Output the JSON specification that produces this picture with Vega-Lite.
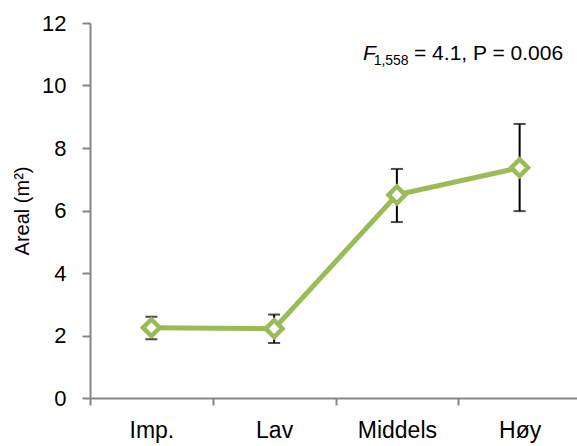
{
  "$schema": "https://vega.github.io/schema/vega-lite/v6.json",
  "width": 491,
  "height": 375,
  "autosize": "none",
  "padding": {"left": 90, "top": 23, "right": 0, "bottom": 48},
  "background": "white",
  "config": {"view": {"stroke": null}, "font": "Liberation Sans"},
  "data": {"values": [
    {"cat": "Imp.", "mean": 2.25, "lo": 1.88, "hi": 2.6},
    {"cat": "Lav", "mean": 2.22, "lo": 1.76, "hi": 2.67},
    {"cat": "Middels", "mean": 6.5, "lo": 5.63, "hi": 7.33},
    {"cat": "Høy", "mean": 7.37, "lo": 5.98, "hi": 8.77}
  ]},
  "encoding": {
    "x": {
      "field": "cat", "type": "nominal", "sort": null,
      "scale": {"type": "band", "paddingInner": 0, "paddingOuter": 0},
      "axis": {
        "title": null, "tickBand": "extent", "labelAngle": 0,
        "domainColor": "#868686", "domainWidth": 2,
        "tickColor": "#868686", "tickWidth": 2, "tickSize": 7,
        "labelFontSize": 23, "labelColor": "black", "labelPadding": 14,
        "grid": false
      }
    }
  },
  "layer": [
    {
      "mark": {"type": "rule", "color": "black", "strokeWidth": 2},
      "encoding": {
        "y": {"field": "lo", "type": "quantitative",
          "scale": {"domain": [0, 12], "nice": false},
          "axis": {
            "title": "Areal (m²)", "values": [0, 2, 4, 6, 8, 10, 12],
            "domainColor": "#868686", "domainWidth": 2,
            "tickColor": "#868686", "tickWidth": 2, "tickSize": 8,
            "labelFontSize": 22, "labelColor": "black", "labelPadding": 16,
            "titleFontSize": 20, "titleFontWeight": "normal", "titleColor": "black",
            "titlePadding": 9, "grid": false
          }},
        "y2": {"field": "hi"}
      }
    },
    {
      "mark": {"type": "tick", "color": "black", "size": 12, "thickness": 2, "orient": "horizontal"},
      "encoding": {"y": {"field": "lo", "type": "quantitative"}}
    },
    {
      "mark": {"type": "tick", "color": "black", "size": 12, "thickness": 2, "orient": "horizontal"},
      "encoding": {"y": {"field": "hi", "type": "quantitative"}}
    },
    {
      "mark": {"type": "line", "color": "#9BBB59", "strokeWidth": 5},
      "encoding": {"y": {"field": "mean", "type": "quantitative"}}
    },
    {
      "mark": {"type": "point", "shape": "diamond", "filled": true, "fill": "white", "stroke": "#9BBB59", "strokeWidth": 4.5, "size": 280, "opacity": 1},
      "encoding": {"y": {"field": "mean", "type": "quantitative"}}
    },
    {
      "data": {"values": [{"cat": "Høy", "y": 11, "t": "F"}]},
      "mark": {"type": "text", "align": "left", "baseline": "alphabetic", "fontSize": 21, "fontStyle": "italic", "dx": -156.6, "dy": 6, "color": "black"},
      "encoding": {"y": {"field": "y", "type": "quantitative"}, "text": {"field": "t"}}
    },
    {
      "data": {"values": [{"cat": "Høy", "y": 11, "t": "1,558"}]},
      "mark": {"type": "text", "align": "left", "baseline": "alphabetic", "fontSize": 14, "dx": -146, "dy": 11, "color": "black"},
      "encoding": {"y": {"field": "y", "type": "quantitative"}, "text": {"field": "t"}}
    },
    {
      "data": {"values": [{"cat": "Høy", "y": 11, "t": "= 4.1, P = 0.006"}]},
      "mark": {"type": "text", "align": "left", "baseline": "alphabetic", "fontSize": 21, "dx": -105.6, "dy": 6, "color": "black"},
      "encoding": {"y": {"field": "y", "type": "quantitative"}, "text": {"field": "t"}}
    }
  ]
}
